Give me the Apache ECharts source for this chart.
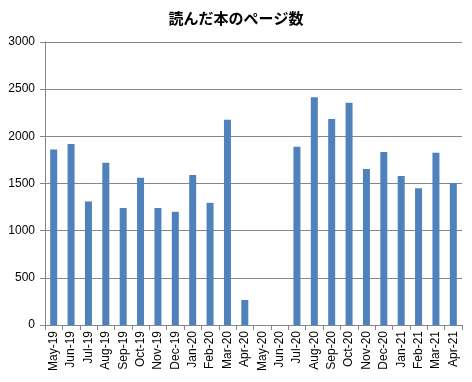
<!DOCTYPE html>
<html><head><meta charset="utf-8">
<script src="https://cdn.jsdelivr.net/npm/echarts@6/dist/echarts.min.js"></script>
<style>html,body{margin:0;padding:0;background:#fff}#c{width:472px;height:382px}</style>
</head><body><div id="c"></div>
<script>
const title = '読んだ本のページ数';
const categories = ['May-19','Jun-19','Jul-19','Aug-19','Sep-19','Oct-19','Nov-19','Dec-19','Jan-20','Feb-20','Mar-20','Apr-20','May-20','Jun-20','Jul-20','Aug-20','Sep-20','Oct-20','Nov-20','Dec-20','Jan-21','Feb-21','Mar-21','Apr-21'];
const pages = [1860,1920,1310,1720,1240,1560,1240,1200,1590,1295,2175,265,0,0,1890,2415,2185,2355,1655,1835,1580,1450,1825,1505];
const yTicks = {min:0, max:3000, interval:500};

const chart = echarts.init(document.getElementById('c'), null, {renderer:'canvas'});
chart.setOption({
  animation:false,
  backgroundColor:'#fff',
  title:{text:title,left:'center',top:6,textStyle:{fontFamily:'Noto Sans CJK JP',fontSize:15,fontWeight:'bold',color:'#000'}},
  grid:{left:45,right:10,top:42,bottom:57,containLabel:false},
  xAxis:{type:'category',data:categories,boundaryGap:true,
    axisLine:{lineStyle:{color:'#868686',width:1}},
    axisTick:{show:true,alignWithLabel:false,length:5,lineStyle:{color:'#868686'}},
    axisLabel:{rotate:90,interval:0,fontFamily:'Liberation Sans',fontSize:12,color:'#000',margin:6}},
  yAxis:{type:'value',min:yTicks.min,max:yTicks.max,interval:yTicks.interval,
    axisLine:{show:true,lineStyle:{color:'#868686'}},
    axisTick:{show:true,length:5,lineStyle:{color:'#868686'}},
    splitLine:{lineStyle:{color:'#868686',width:1}},
    axisLabel:{fontFamily:'Liberation Sans',fontSize:12,color:'#000',margin:10,formatter:function(v){return String(v);}}},
  series:[{type:'bar',data:pages,barWidth:7,itemStyle:{color:'#4F81BD'}}]
});
</script></body></html>
